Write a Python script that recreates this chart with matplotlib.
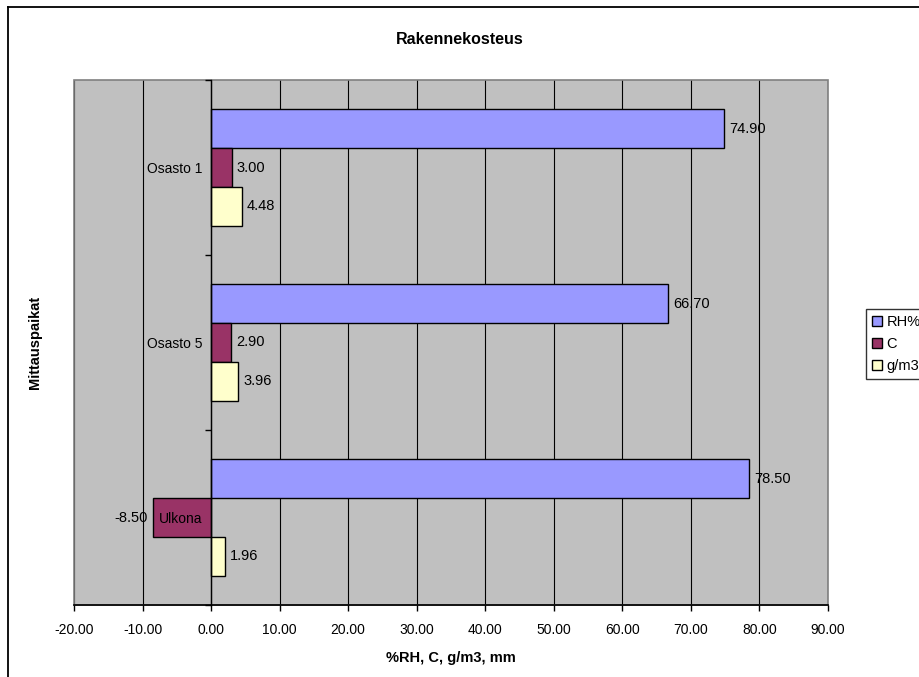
import matplotlib
matplotlib.use("Agg")
import matplotlib.pyplot as plt
from matplotlib.patches import Rectangle
from matplotlib.lines import Line2D
import numpy as np

plt.rcParams['font.family'] = ['Liberation Sans', 'DejaVu Sans']

# Measurement sites, listed top to bottom
sites = ["Osasto 1", "Osasto 5", "Ulkona"]
series_names = ["RH%", "C", "g/m3"]
rh_values = [74.90, 66.70, 78.50]
c_values = [3.00, 2.90, -8.50]
gm3_values = [4.48, 3.96, 1.96]
series_colors = ["#9999FF", "#993366", "#FFFFCC"]
x_ticks = [-20, -10, 0, 10, 20, 30, 40, 50, 60, 70, 80, 90]

W, H = 920, 677
fig = plt.figure(figsize=(W / 100, H / 100), dpi=100)
ax = fig.add_axes([74 / W, 1 - 605 / H, 754 / W, 525 / H])
ax.set_facecolor("#C0C0C0")

n = len(sites)
centers = np.arange(n)[::-1].astype(float)  # first site on top
bar_h = 0.222
offsets = [bar_h, 0.0, -bar_h]
all_series = [rh_values, c_values, gm3_values]

for vals, off, col, name in zip(all_series, offsets, series_colors, series_names):
    ys = centers + off
    ax.barh(ys, vals, height=bar_h, color=col, edgecolor="black",
            linewidth=1.0, label=name, zorder=1)
    for y, v in zip(ys, vals):
        if v >= 0:
            ax.annotate(f"{v:.2f}", (v, y), xytext=(3.5, 0), textcoords="offset points",
                        ha="left", va="center", fontsize=10.5, zorder=4)
        else:
            ax.annotate(f"{v:.2f}", (v, y), xytext=(-3.5, 0), textcoords="offset points",
                        ha="right", va="center", fontsize=10.5, zorder=4)

# vertical gridlines behind the bars
for xv in x_ticks:
    ax.axvline(xv, color="black", linewidth=0.8, zorder=0.5)

ax.set_xlim(x_ticks[0], x_ticks[-1])
ax.set_ylim(-0.5, n - 0.5)
ax.set_xticks(x_ticks)
ax.set_xticklabels([f"{v:.2f}" for v in x_ticks], fontsize=10)
ax.tick_params(axis="x", length=4, width=1, pad=9, color="black")

# category axis: ticks on the boundaries, labels on the centres
ax.set_yticks(np.arange(-0.5, n, 1.0))
ax.set_yticklabels([])
ax.set_yticks(centers, minor=True)
ax.set_yticklabels(sites, minor=True, fontsize=10.5)
ax.tick_params(axis="y", which="major", length=4, width=1, direction="out")
ax.tick_params(axis="y", which="minor", length=0, pad=6)

ax.spines["left"].set_position(("data", 0))
ax.spines["left"].set_color("black")
ax.spines["left"].set_linewidth(1.0)
ax.spines["bottom"].set_color("black")
ax.spines["bottom"].set_linewidth(1.2)
ax.spines["top"].set_visible(False)
ax.spines["right"].set_visible(False)
ax.add_patch(Rectangle((0, 0), 1, 1, transform=ax.transAxes, fill=False,
                       edgecolor="#808080", linewidth=1.2, zorder=0.6, clip_on=False))

fig.text(0.5, 1 - 40 / H, "Rakennekosteus", ha="center", va="center",
         fontsize=11.5, fontweight="bold")
fig.text(451 / W, 1 - 658 / H, "%RH, C, g/m3, mm", ha="center", va="center",
         fontsize=10.5, fontweight="bold")
fig.text(35 / W, 1 - 342 / H, "Mittauspaikat", ha="center", va="center",
         rotation=90, fontsize=10.5, fontweight="bold")

leg = fig.legend(loc="upper left", bbox_to_anchor=(866 / W, 1 - 309 / H),
                 fontsize=10.5, frameon=True, fancybox=False, shadow=False,
                 handlelength=0.7, handleheight=0.7, handletextpad=0.3,
                 labelspacing=0.55, borderpad=0.42, borderaxespad=0)
leg.get_frame().set_edgecolor("black")
leg.get_frame().set_linewidth(1.0)

# chart frame (top and left edges)
fig.add_artist(Line2D([8 / W, 8 / W], [0, 1 - 7 / H], color="black", linewidth=1.3))
fig.add_artist(Line2D([8 / W, 1], [1 - 7 / H, 1 - 7 / H], color="black", linewidth=1.3))

fig.savefig("out.png", dpi=100)
